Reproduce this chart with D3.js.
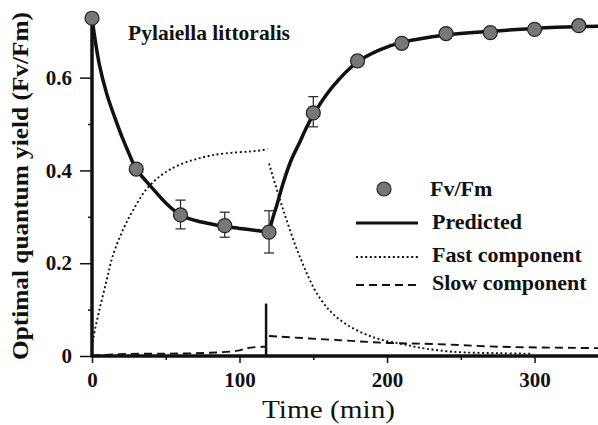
<!DOCTYPE html>
<html>
<head>
<meta charset="utf-8">
<script src="https://cdn.jsdelivr.net/npm/d3@7"></script>
<style>
  body { margin: 0; background: #fff; }
  text { font-family: "Liberation Serif", "Times New Roman", serif; fill: #111; }
</style>
</head>
<body>
<div id="chart"></div>
<script>
// measured Fv/Fm (means) with error bar ends
const times = [0, 30, 60, 90, 120, 150, 180, 210, 240, 270, 300, 330];
const fvfm = [0.728, 0.403, 0.304, 0.281, 0.267, 0.524, 0.636, 0.674, 0.695, 0.697, 0.704, 0.712];
const errLow = [null, null, 0.274, 0.256, 0.222, 0.494, null, null, null, null, null, null];
const errHigh = [null, null, 0.336, 0.310, 0.313, 0.559, null, null, null, null, null, null];

// predicted curve (two pieces, kink at 120 min)
const predDownT = [0, 5, 10, 15, 20, 25, 30, 40, 50, 60, 70, 80, 90, 100, 110, 120];
const predDown = [0.728, 0.628, 0.565, 0.518, 0.475, 0.437, 0.403, 0.365, 0.33, 0.304, 0.292, 0.285, 0.279, 0.275, 0.271, 0.267];
const predUpT = [120, 122.5, 125, 129.5, 135, 141, 145, 150, 163, 180, 195, 210, 240, 270, 300, 330, 343];
const predUp = [0.267, 0.297, 0.322, 0.372, 0.422, 0.462, 0.49, 0.52, 0.58, 0.634, 0.66, 0.676, 0.692, 0.70, 0.706, 0.71, 0.711];

// fast component
const fastRiseT = [0, 1, 5, 10, 14, 21, 28, 37, 48, 60, 82, 114, 119];
const fastRise = [0.01, 0.04, 0.099, 0.164, 0.215, 0.272, 0.315, 0.36, 0.392, 0.413, 0.433, 0.443, 0.446];
const fastDecayT = [120, 129, 141, 154, 168, 190, 213, 222, 245, 276, 299];
const fastDecay = [0.415, 0.321, 0.213, 0.127, 0.078, 0.041, 0.024, 0.018, 0.009, 0.006, 0.005];

// slow component
const slowBeforeT = [0, 17, 50, 80, 100, 105, 116, 118];
const slowBefore = [0, 0.004, 0.005, 0.007, 0.012, 0.017, 0.02, 0.02];
const slowAfterT = [120, 168, 202, 231, 276, 343];
const slowAfter = [0.043, 0.034, 0.028, 0.026, 0.02, 0.017];

// vertical marker
const markerT = 118;
const markerH = 0.113;

const xTicks = [0, 100, 200, 300];
const xMinor = [50, 150, 250];
const yTicks = [0, 0.2, 0.4, 0.6];
const yMinor = [0.1, 0.3, 0.5];

const legendLabels = ["Fv/Fm", "Predicted", "Fast component", "Slow component"];

const width = 598, height = 425;

const svg = d3.select("#chart").append("svg")
  .attr("width", width)
  .attr("height", height);

const x = d3.scaleLinear().domain([0, 343]).range([92, 598]);
const y = d3.scaleLinear().domain([0, 0.735]).range([356, 15]);

const pairs = (ts, vs) => ts.map((t, i) => [t, vs[i]]);
const line = d3.line().x(d => x(d[0])).y(d => y(d[1])).curve(d3.curveCatmullRom.alpha(0.5));

/* Curves */
const curves = [
  { d: pairs(fastRiseT, fastRise), dash: "2,2.6", w: 1.9 },
  { d: pairs(fastDecayT, fastDecay), dash: "2,2.6", w: 1.9 },
  { d: pairs(slowBeforeT, slowBefore), dash: "8,5", w: 1.9 },
  { d: pairs(slowAfterT, slowAfter), dash: "8,5", w: 1.9 },
  { d: pairs(predDownT, predDown), dash: null, w: 3.5 },
  { d: pairs(predUpT, predUp), dash: null, w: 3.5 },
];
svg.append("g").selectAll("path")
  .data(curves)
  .join("path")
  .attr("d", d => line(d.d))
  .attr("fill", "none")
  .attr("stroke", "#111")
  .attr("stroke-width", d => d.w)
  .attr("stroke-dasharray", d => d.dash);

/* Marker */
svg.append("line")
  .attr("x1", x(markerT)).attr("x2", x(markerT))
  .attr("y1", y(0)).attr("y2", y(markerH))
  .attr("stroke", "#111").attr("stroke-width", 2.5);

/* Axes */
const xAxis = svg.append("g")
  .attr("transform", `translate(0,${y(0)})`)
  .call(d3.axisBottom(x).tickValues(xTicks).tickSize(7).tickPadding(9).tickFormat(d3.format("d")));
const xMin = svg.append("g")
  .attr("transform", `translate(0,${y(0)})`)
  .call(d3.axisBottom(x).tickValues(xMinor).tickSize(4).tickFormat(""));
const yAxis = svg.append("g")
  .attr("transform", `translate(${x(0)},0)`)
  .call(d3.axisLeft(y).tickValues(yTicks).tickSize(12).tickPadding(8).tickFormat(d => d === 0 ? "0" : d3.format(".1f")(d)));
const yMin = svg.append("g")
  .attr("transform", `translate(${x(0)},0)`)
  .call(d3.axisLeft(y).tickValues(yMinor).tickSize(4).tickFormat(""));

[xAxis, xMin, yAxis, yMin].forEach(g => {
  g.attr("font-family", null);
  g.select(".domain").remove();
  g.selectAll(".tick line").attr("stroke", "#111").attr("stroke-width", 1.5);
  g.selectAll(".tick text")
    .style("font-family", '"Liberation Serif", "Times New Roman", serif')
    .style("font-size", "21px")
    .style("font-weight", "bold");
});

svg.append("line")
  .attr("x1", x(0)).attr("x2", 598)
  .attr("y1", y(0)).attr("y2", y(0))
  .attr("stroke", "#111").attr("stroke-width", 3.5);
svg.append("line")
  .attr("x1", x(0)).attr("x2", x(0))
  .attr("y1", y(0) + 1.5).attr("y2", y(0.728))
  .attr("stroke", "#111").attr("stroke-width", 3.5);

/* Error bars */
const errData = times.map((t, i) => ({ t, lo: errLow[i], hi: errHigh[i] })).filter(d => d.lo !== null);
const eb = svg.append("g").attr("stroke", "#222").attr("stroke-width", 1.2);
eb.selectAll("line.v").data(errData).join("line")
  .attr("x1", d => x(d.t)).attr("x2", d => x(d.t))
  .attr("y1", d => y(d.lo)).attr("y2", d => y(d.hi));
eb.selectAll("line.lo").data(errData).join("line")
  .attr("x1", d => x(d.t) - 5).attr("x2", d => x(d.t) + 5)
  .attr("y1", d => y(d.lo)).attr("y2", d => y(d.lo));
eb.selectAll("line.hi").data(errData).join("line")
  .attr("x1", d => x(d.t) - 5).attr("x2", d => x(d.t) + 5)
  .attr("y1", d => y(d.hi)).attr("y2", d => y(d.hi));

/* Points */
svg.append("g").selectAll("circle")
  .data(times.map((t, i) => [t, fvfm[i]]))
  .join("circle")
  .attr("cx", d => x(d[0]))
  .attr("cy", d => y(d[1]))
  .attr("r", 7)
  .attr("fill", "#777")
  .attr("stroke", "#222")
  .attr("stroke-width", 1.2);

/* Labels */
svg.append("text")
  .attr("x", 128).attr("y", 40)
  .attr("textLength", 162).attr("lengthAdjust", "spacingAndGlyphs")
  .style("font-size", "22px").style("font-weight", "bold")
  .text("Pylaiella littoralis");

svg.append("text")
  .attr("x", 262).attr("y", 418)
  .attr("textLength", 133).attr("lengthAdjust", "spacingAndGlyphs")
  .style("font-size", "26px")
  .text("Time (min)");

svg.append("text")
  .attr("transform", "translate(28,360) rotate(-90)")
  .attr("textLength", 348).attr("lengthAdjust", "spacingAndGlyphs")
  .style("font-size", "24px").style("font-weight", "bold")
  .text("Optimal quantum yield (Fv/Fm)");

/* Legend */
const legY = [189, 223, 257, 285];
const legBase = [196, 229, 262, 290];
const leg = svg.append("g");
leg.append("circle").attr("cx", 384).attr("cy", legY[0]).attr("r", 7)
  .attr("fill", "#777").attr("stroke", "#222").attr("stroke-width", 1.2);
[[null, 3], ["2,2.6", 2], ["8,5", 2]].forEach((s, i) => {
  leg.append("line")
    .attr("x1", 356).attr("x2", 418)
    .attr("y1", legY[i + 1]).attr("y2", legY[i + 1])
    .attr("stroke", "#111").attr("stroke-width", s[1])
    .attr("stroke-dasharray", s[0]);
});
leg.selectAll("text").data(legendLabels).join("text")
  .attr("x", (d, i) => i === 0 ? 430 : 432)
  .attr("y", (d, i) => legBase[i])
  .style("font-size", "22px").style("font-weight", "bold")
  .text(d => d);
</script>
</body>
</html>
